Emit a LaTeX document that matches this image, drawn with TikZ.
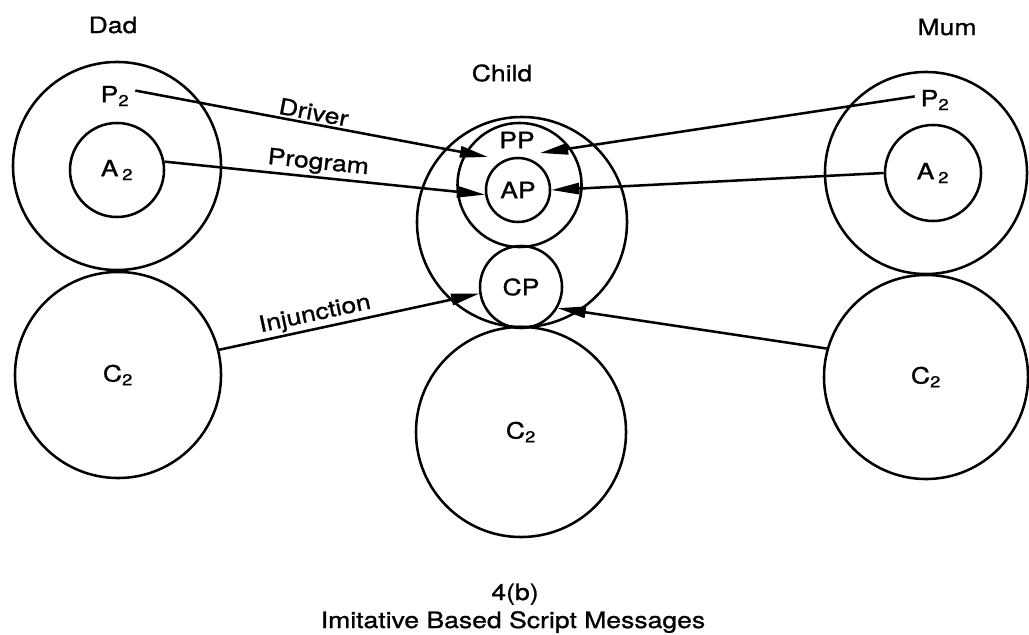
\documentclass[tikz,border=0pt]{standalone}
\usepackage{fontspec}
\setmainfont{TeX Gyre Heros}[FakeStretch=1.18,FakeBold=1]
\usetikzlibrary{arrows.meta}
\begin{document}
\begin{tikzpicture}[x=0.025cm,y=-0.025cm,line width=1.8pt,
    font=\fontsize{16}{19}\selectfont,
    ring/.style={circle,draw,inner sep=0pt},
    msg/.style={-{Triangle[length=20pt,width=8pt]}},
    lbl/.style={sloped,above,inner sep=1.5pt}]
    \useasboundingbox (0,0) rectangle (1029,635);
    \node (dad) at (113,25) {Dad};
    \node (mum) at (947,27) {Mum};
    \node (child) at (502,73) {Child};
    \node[ring,minimum size=5.2cm] (dadP) at (117,166) {};
    \node[ring,minimum size=2.35cm] (dadA) at (117,170) {A\,\textsubscript{2}};
    \node[ring,minimum size=5.15cm] (dadC) at (118,375) {C\textsubscript{2}};
    \node (dadP2) at (115,96) {P\textsubscript{2}};
    \node[ring,minimum size=5.05cm] (mumP) at (926,173) {};
    \node[ring,minimum size=2.4cm] (mumA) at (933,173) {A\,\textsubscript{2}};
    \node[ring,minimum size=5.1cm] (mumC) at (926,377) {C\textsubscript{2}};
    \node (mumP2) at (935,100) {P\textsubscript{2}};
    \node[ring,minimum size=5.25cm] (childO) at (522,222) {};
    \node[ring,minimum size=3.1cm] (childPP) at (519.5,185) {};
    \node (pp) at (517,140) {PP};
    \node[ring,minimum size=1.6cm] (childAP) at (518,190) {AP};
    \node[ring,minimum size=2.05cm] (childCP) at (521,287) {CP};
    \node[ring,minimum size=5.25cm] (childC) at (521,432) {C\textsubscript{2}};
    \coordinate (drvL) at (488,157);
    \coordinate (drvR) at (540,153);
    \draw[msg] (dadP2.15) -- node[lbl,pos=0.5] {Driver} (drvL);
    \draw[msg] (mumP2.170) -- (drvR);
    \draw[msg] (dadA.10) -- node[lbl,pos=0.475] {Program} (childAP.188);
    \draw[msg] (mumA.west) -- (childAP.east);
    \draw[msg] (dadC.14) -- node[lbl,pos=0.38] {Injunction} (childCP.189);
    \draw[msg] (mumC.164) -- (childCP.-30);
    \node[anchor=base] (fig) at (515,600) {4(b)};
    \node[anchor=base] (caption) at (513,628) {Imitative Based Script Messages};
\end{tikzpicture}
\end{document}
